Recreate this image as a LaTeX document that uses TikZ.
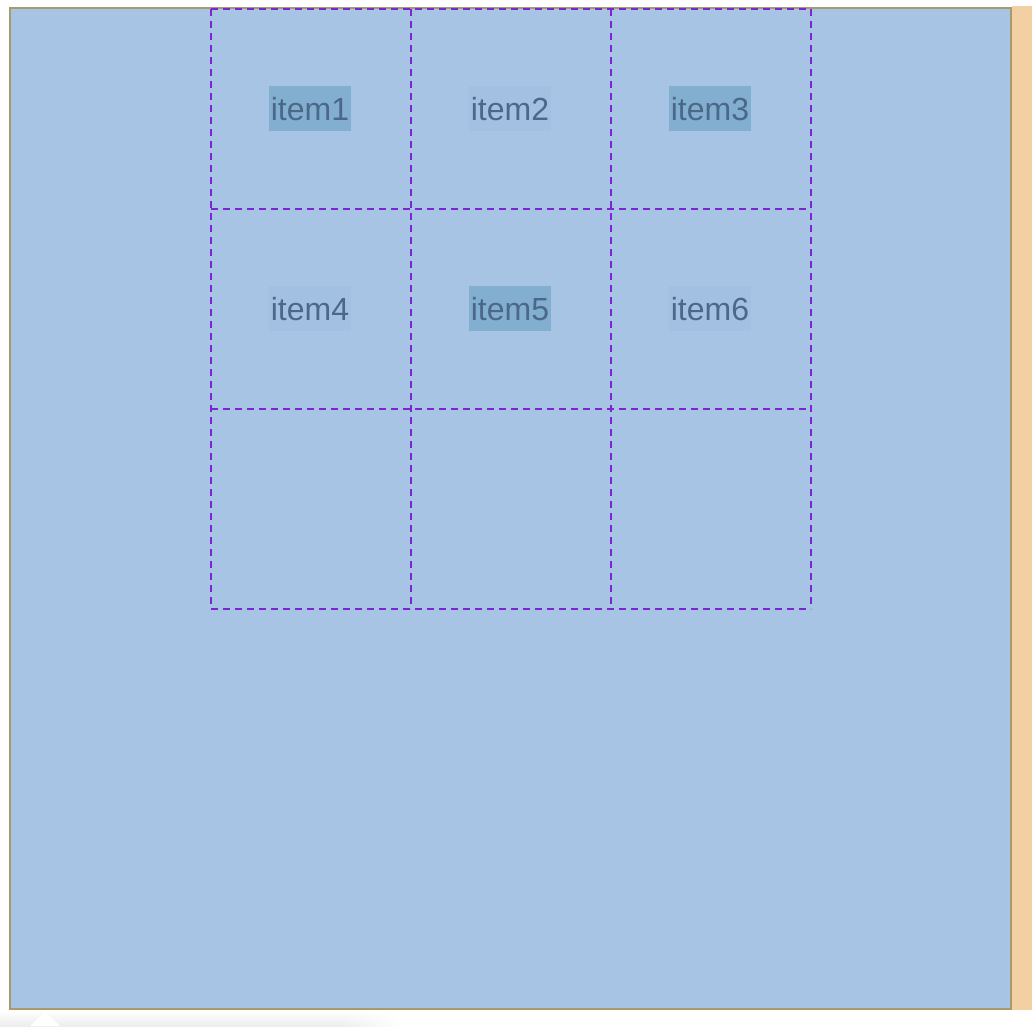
\documentclass[tikz,border=0pt]{standalone}
\usepackage{fontspec}
\setmainfont{Liberation Sans}
\definecolor{bgblue}{HTML}{A7C4E4}
\definecolor{hlblue}{HTML}{82AECF}
\definecolor{faintblue}{HTML}{A2C0E2}
\definecolor{olive}{HTML}{A89B6B}
\definecolor{peach}{HTML}{F3D0A3}
\definecolor{gridpurple}{HTML}{7B25D3}
\definecolor{txt}{HTML}{4B6888}
\usetikzlibrary{fadings}
\tikzfading[name=fade right, left color=transparent!0, right color=transparent!100]
\tikzset{
  gridline/.style={draw=gridpurple, line width=1.6pt, dash pattern=on 7pt off 5pt},
  itembox/.style={inner xsep=2pt, inner ysep=0pt, text height=34.5pt, text depth=10pt,
     font=\fontsize{32}{32}\selectfont, text=txt},
  hl/.style={itembox, fill=hlblue},
  faint/.style={itembox, fill=faintblue},
}
\begin{document}
\begin{tikzpicture}[x=1pt,y=-1pt]
\useasboundingbox (0,0) rectangle (1032,1026);
\fill[white] (0,0) rectangle (1032,1026);
% tooltip shadow below
\begin{scope}
\clip (0,1010) rectangle (400,1026);
\shade[top color=white, bottom color=black!7] (0,1010) rectangle (340,1026);
\shade[top color=white, bottom color=black!7, path fading=fade right] (340,1010) rectangle (400,1026);
\end{scope}
\fill[white] (30,1026) -- (45,1012) -- (60,1026) -- cycle;
% peach strip
\fill[peach] (1012,6) rectangle (1032,1010);
% container
\node[draw=olive, line width=2pt, fill=bgblue, minimum width=1001pt, minimum height=1001pt, inner sep=0pt, anchor=north west] (box) at (9,7) {};
% grid
\foreach \x in {211,411,611,811} \draw[gridline] (\x,9) -- (\x,609);
\foreach \y in {9,209,409,609} \draw[gridline] (211,\y) -- (811,\y);
% items
\node[hl]    (i1) at (310,108.5) {item1};
\node[faint] (i2) at (510,108.5) {item2};
\node[hl]    (i3) at (710,108.5) {item3};
\node[faint] (i4) at (310,308.5) {item4};
\node[hl]    (i5) at (510,308.5) {item5};
\node[faint] (i6) at (710,308.5) {item6};
\end{tikzpicture}
\end{document}
